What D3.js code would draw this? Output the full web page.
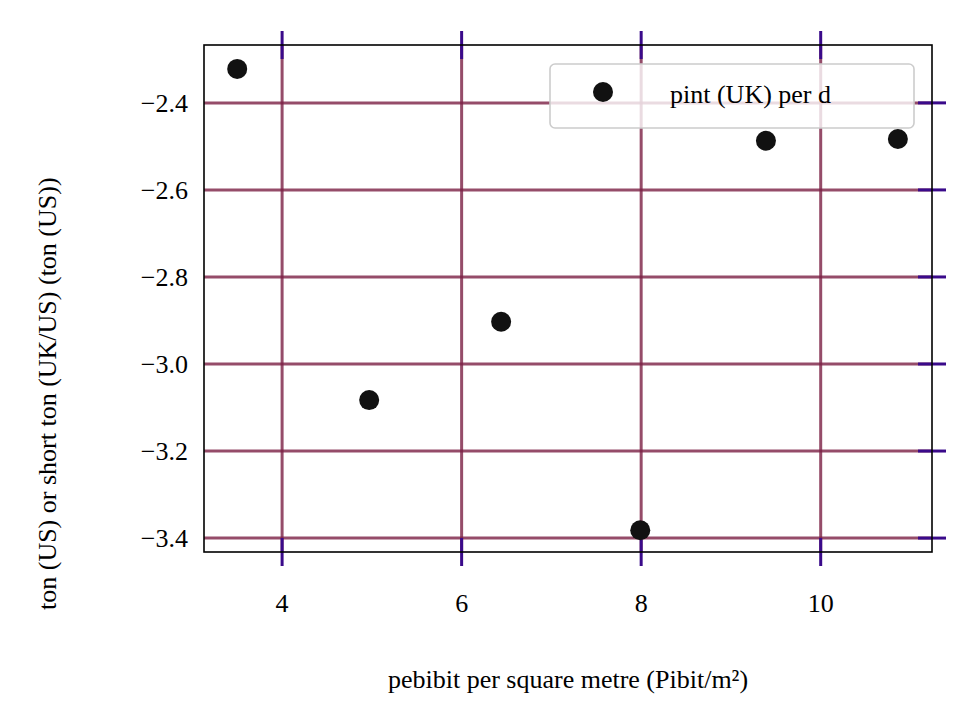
<!DOCTYPE html>
<html><head><meta charset="utf-8">
<script src="https://cdn.jsdelivr.net/npm/d3@7"></script>
<style>body{margin:0;background:#fff}svg{font-family:"Liberation Serif","Times New Roman",serif}</style>
</head><body><div id="chart"></div>
<script>
var xVals = [3.5, 4.97, 6.44, 7.99, 9.39, 10.86];
var yVals = [-2.322, -3.083, -2.903, -3.382, -2.487, -2.483];
var xTicks = [4, 6, 8, 10];
var yTicks = [-2.4, -2.6, -2.8, -3.0, -3.2, -3.4];
var seriesName = 'pint (UK) per d';

var W = 978, H = 724;
var pL = 204, pR = 932, pT = 45, pB = 552;
var fs = 26;
var svg = d3.select('#chart').append('svg').attr('width', W).attr('height', H);

var x = d3.scaleLinear().domain([3.13, 11.24]).range([pL, pR]);
var y = d3.scaleLinear().domain([-2.267, -3.432]).range([pT, pB]);
var fmt = function(d){ return d.toFixed(1).replace('-', '\u2212'); };

var grid = '#7a1f44';
svg.selectAll('line.gx').data(xTicks).enter().append('line')
    .attr('x1', function(d){ return x(d); }).attr('x2', function(d){ return x(d); })
    .attr('y1', pT).attr('y2', pB)
    .attr('stroke', grid).attr('stroke-opacity', 0.8).attr('stroke-width', 3);
svg.selectAll('line.gy').data(yTicks).enter().append('line')
    .attr('y1', function(d){ return y(d); }).attr('y2', function(d){ return y(d); })
    .attr('x1', pL).attr('x2', pR)
    .attr('stroke', grid).attr('stroke-opacity', 0.8).attr('stroke-width', 3);

// ticks (inout) top, bottom, right
var tk = '#3a0a8a';
[pT, pB].forEach(function(yy){
    svg.selectAll(null).data(xTicks).enter().append('line')
        .attr('x1', function(d){ return x(d); }).attr('x2', function(d){ return x(d); })
        .attr('y1', yy - 14).attr('y2', yy + 14)
        .attr('stroke', tk).attr('stroke-width', 3);
});
svg.selectAll(null).data(yTicks).enter().append('line')
    .attr('y1', function(d){ return y(d); }).attr('y2', function(d){ return y(d); })
    .attr('x1', pR - 14).attr('x2', pR + 14)
    .attr('stroke', tk).attr('stroke-width', 3);

svg.append('rect').attr('x', pL).attr('y', pT)
    .attr('width', pR - pL).attr('height', pB - pT)
    .attr('fill', 'none').attr('stroke', '#000').attr('stroke-width', 1.6);

svg.selectAll('text.xt').data(xTicks).enter().append('text')
    .attr('x', function(d){ return x(d); }).attr('y', 612)
    .attr('text-anchor', 'middle').attr('font-size', fs).text(function(d){ return d; });
svg.selectAll('text.yt').data(yTicks).enter().append('text')
    .attr('x', 188).attr('y', function(d){ return y(d) + 9; })
    .attr('text-anchor', 'end').attr('font-size', fs).text(fmt);

svg.append('text').attr('x', 568).attr('y', 688).attr('text-anchor', 'middle')
    .attr('font-size', fs).text('pebibit per square metre (Pibit/m\u00b2)');
svg.append('text').attr('transform', 'translate(56,610) rotate(-90)')
    .attr('text-anchor', 'start').attr('font-size', fs)
    .text('ton (US) or short ton (UK/US) (ton (US))');

svg.selectAll('circle.pt').data(xVals).enter().append('circle')
    .attr('cx', function(d){ return x(d); })
    .attr('cy', function(d, i){ return y(yVals[i]); })
    .attr('r', 10).attr('fill', '#111');

var lg = svg.append('g');
lg.append('rect').attr('x', 550).attr('y', 64).attr('width', 364).attr('height', 64).attr('rx', 5)
    .attr('fill', '#fff').attr('fill-opacity', 0.8).attr('stroke', '#ccc').attr('stroke-width', 1.6);
lg.append('circle').attr('cx', 603).attr('cy', 92).attr('r', 10).attr('fill', '#111');
lg.append('text').attr('x', 670).attr('y', 103).attr('font-size', fs).text(seriesName);
</script></body></html>
